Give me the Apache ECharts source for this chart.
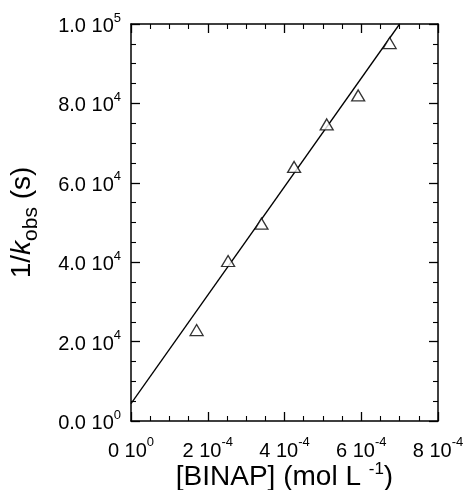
<!DOCTYPE html>
<html>
<head>
<meta charset="utf-8">
<script src="https://cdn.jsdelivr.net/npm/echarts@6/dist/echarts.min.js"></script>
<style>
  html, body { margin: 0; padding: 0; background: #fff; }
  #chart { width: 467px; height: 490px; }
</style>
</head>
<body>
<div id="chart"></div>
<script>
// measured points, [BINAP] (mol/L) vs 1/kobs (s)
var binap = [1.71e-4, 2.53e-4, 3.40e-4, 4.25e-4, 5.10e-4, 5.92e-4, 6.74e-4];
var invKobs = [22900, 40300, 49700, 64000, 74700, 82000, 95200];
// fitted line, end points
var fitX = [0, 7.0e-4];
var fitY = [4400, 100000];

var xTicks = [0, 2e-4, 4e-4, 6e-4, 8e-4];
var xTickLabels = ['0 10^0', '2 10^-4', '4 10^-4', '6 10^-4', '8 10^-4'];
var yTicks = [0, 2e4, 4e4, 6e4, 8e4, 1e5];
var yTickLabels = ['0.0 10^0', '2.0 10^4', '4.0 10^4', '6.0 10^4', '8.0 10^4', '1.0 10^5'];

var FONT = '"Liberation Sans", Arial, Helvetica, sans-serif';

function pickLabel(value, ticks, labels) {
    var best = 0;
    for (var i = 1; i < ticks.length; i++) {
        if (Math.abs(ticks[i] - value) < Math.abs(ticks[best] - value)) best = i;
    }
    var parts = labels[best].split('^');
    return '{m|' + parts[0] + '}{e|' + parts[1] + '}';
}

var tickRich = {
    m: { fontSize: 20, fontFamily: FONT, color: '#000', verticalAlign: 'bottom', lineHeight: 25 },
    e: { fontSize: 13, fontFamily: FONT, color: '#000', verticalAlign: 'top', lineHeight: 25 }
};

function baseAxis(min, max, interval) {
    return {
        type: 'value',
        min: min,
        max: max,
        interval: interval,
        splitLine: { show: false },
        axisLine: { show: true, onZero: false, lineStyle: { color: '#000', width: 1.5 } },
        axisTick: { show: true, inside: true, length: 9, lineStyle: { color: '#000', width: 1.3 } },
        minorTick: { show: true, splitNumber: 4, length: 5, lineStyle: { color: '#000', width: 1.1 } }
    };
}

var chart = echarts.init(document.getElementById('chart'));

var xMain = baseAxis(0, 8e-4, 2e-4);
xMain.position = 'bottom';
xMain.axisLabel = {
    margin: 15,
    formatter: function (v) { return pickLabel(v, xTicks, xTickLabels); },
    rich: tickRich
};
xMain.name = '{m|[BINAP] (mol L }{s|-1}{m|)}';
xMain.nameLocation = 'middle';
xMain.nameGap = 40;
xMain.nameMoveOverlap = false;
xMain.nameTextStyle = {
    rich: {
        m: { fontSize: 28, fontFamily: FONT, color: '#000', verticalAlign: 'bottom', lineHeight: 30 },
        s: { fontSize: 17, fontFamily: FONT, color: '#000', verticalAlign: 'top', lineHeight: 30 }
    }
};
var xTop = baseAxis(0, 8e-4, 2e-4);
xTop.position = 'top';
xTop.axisLabel = { show: false };

var yMain = baseAxis(0, 100000, 20000);
yMain.position = 'left';
yMain.axisLabel = {
    margin: 10,
    formatter: function (v) { return pickLabel(v, yTicks, yTickLabels); },
    rich: tickRich
};
yMain.name = '{m|1/}{i|k}{b|obs}{m| (s)}';
yMain.nameLocation = 'middle';
yMain.nameRotate = 90;
yMain.nameGap = 89;
yMain.nameMoveOverlap = false;
yMain.nameTextStyle = {
    rich: {
        m: { fontSize: 28, fontFamily: FONT, color: '#000', verticalAlign: 'top', lineHeight: 34 },
        i: { fontSize: 28, fontFamily: FONT, fontStyle: 'italic', color: '#000', verticalAlign: 'top', lineHeight: 34 },
        b: { fontSize: 21, fontFamily: FONT, color: '#000', verticalAlign: 'bottom', lineHeight: 34 }
    }
};
var yRight = baseAxis(0, 100000, 20000);
yRight.position = 'right';
yRight.axisLabel = { show: false };

chart.setOption({
    animation: false,
    backgroundColor: '#fff',
    grid: { left: 131, right: 29, top: 24, bottom: 69, containLabel: false, outerBoundsMode: 'none' },
    xAxis: [xMain, xTop],
    yAxis: [yMain, yRight],
    series: [
        {
            name: 'fit',
            type: 'line',
            data: fitX.map(function (x, i) { return [x, fitY[i]]; }),
            symbol: 'none',
            lineStyle: { color: '#000', width: 1.3 },
            clip: true,
            z: 2
        },
        {
            name: 'data',
            type: 'scatter',
            data: binap.map(function (x, i) { return [x, invKobs[i]]; }),
            symbol: 'triangle',
            symbolSize: [13, 11],
            itemStyle: { color: '#fff', borderColor: '#000', borderWidth: 1.3 },
            z: 3
        }
    ]
});
</script>
</body>
</html>
